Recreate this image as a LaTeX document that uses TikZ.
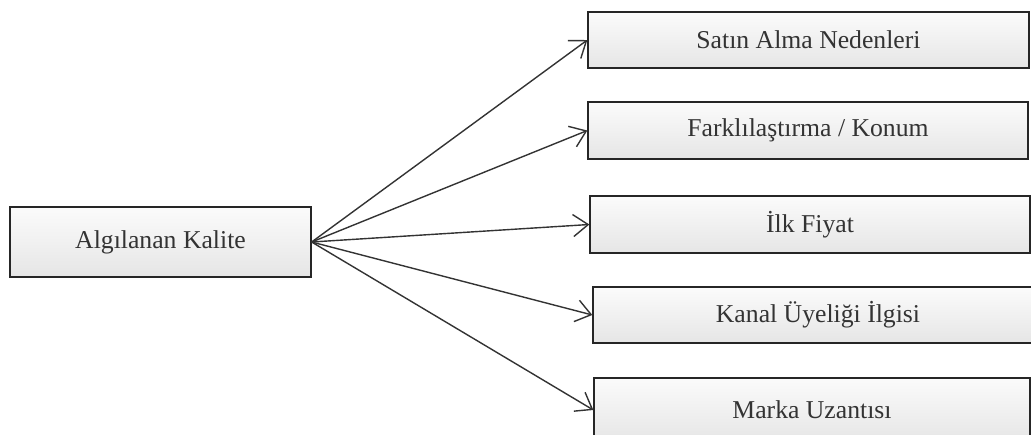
\documentclass[tikz,border=0pt]{standalone}
\usepackage{fontspec}
\setmainfont{Liberation Serif}
\usetikzlibrary{arrows.meta}

\tikzset{
  box/.style={draw=black!85, line width=1.3pt, rectangle, inner sep=0pt,
    top color=gray!3, bottom color=gray!20,
    font=\fontsize{25.7}{30}\selectfont, text=black!80},
  link/.style={draw=black!80, line width=1.4pt,
    -{Straight Barb[length=15pt,width=22pt,line width=1.4pt]}},
}

\begin{document}
\begin{tikzpicture}[x=1pt,y=-1pt]
  \useasboundingbox (0,0) rectangle (1031,434);
  \clip (0,0) rectangle (1031,434);

  % source concept
  \node[box, minimum width=301pt, minimum height=70pt] (src) at (160.5,242) {Algılanan Kalite};

  % outcome boxes
  \node[box, minimum width=441pt, minimum height=56pt] (b1) at (808.5,40)  {Satın Alma Nedenleri};
  \node[box, minimum width=440pt, minimum height=57pt] (b2) at (808,130.5) {Farklılaştırma / Konum};
  \node[box, minimum width=440pt, minimum height=57pt] (b3) at (810,224.5) {İlk Fiyat};
  \node[box, minimum width=450pt, minimum height=56pt] (b4) at (818,315)   {Kanal Üyeliği İlgisi};
  \node[box, minimum width=436pt, minimum height=64pt] (b5) at (812,410)   {Marka Uzantısı};

  % connectors
  \foreach \t in {b1,b2,b3,b4,b5}
    \draw[link] (src.east) -- (\t.west);
\end{tikzpicture}
\end{document}
